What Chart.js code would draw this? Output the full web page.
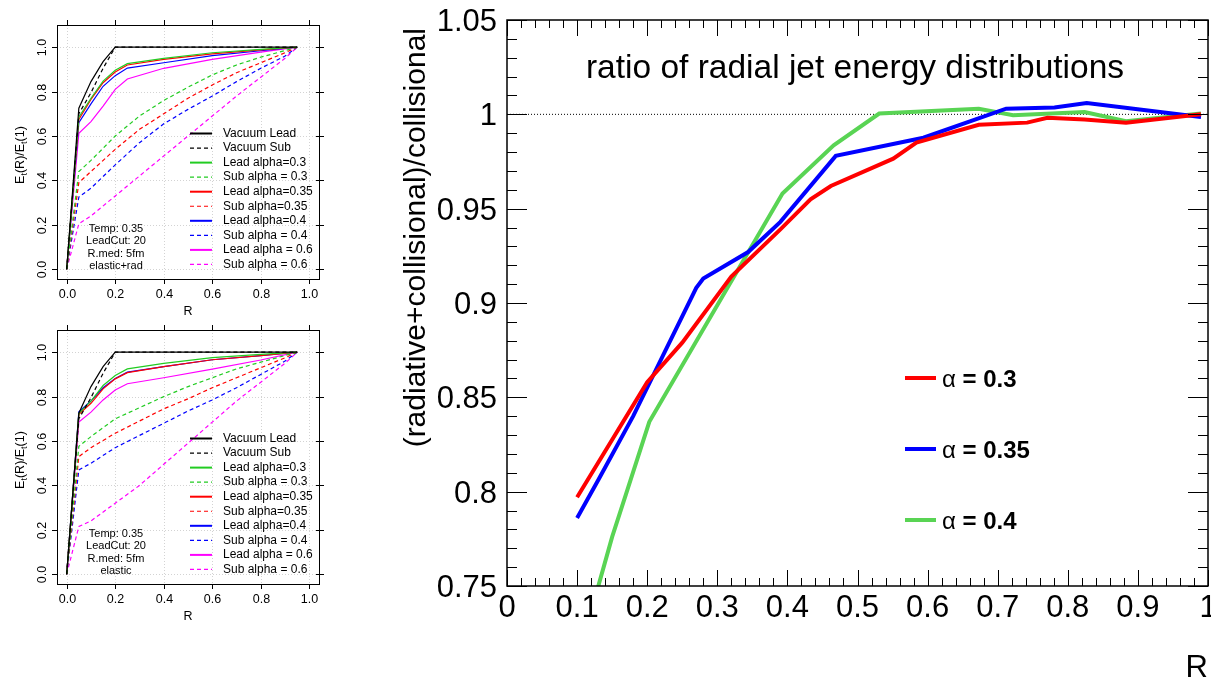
<!DOCTYPE html>
<html>
<head>
<meta charset="utf-8">
<script src="https://cdn.jsdelivr.net/npm/chart.js@4"></script>
<style>
html, body { margin: 0; padding: 0; background: #fff; overflow: hidden; }
body { width: 1211px; height: 681px; position: relative; }
.holder { position: absolute; }
</style>
</head>
<body>
<div class="holder" style="left:0;top:0;width:330px;height:320px"><canvas id="radPanel"></canvas></div>
<div class="holder" style="left:0;top:305px;width:330px;height:320px"><canvas id="elasticPanel"></canvas></div>
<div class="holder" style="left:380px;top:0;width:831px;height:681px"><canvas id="ratio"></canvas></div>
<script>
// ---- small panels: E_t(R)/E_t(1) ----
const leadRadii = [0, 0.05, 0.1, 0.15, 0.2, 0.25, 0.4, 0.6, 0.8, 0.95]
const subRadii = [0, 0.05, 0.1, 0.2, 0.3, 0.4, 0.5, 0.6, 0.7, 0.8, 0.9, 0.95]
const panelXTicks = [0, 0.2, 0.4, 0.6, 0.8, 1.0]
const panelYTicks = [0, 0.2, 0.4, 0.6, 0.8, 1.0]

const vacuumLead = [0, 0.725, 0.845, 0.935, 1, 1, 1, 1, 1, 1]
const vacuumSub = [0, 0.70, 0.795, 0.905, 1, 1, 1, 1, 1, 1]

// elastic+rad
const radLead03 = [0, 0.685, 0.77, 0.847, 0.896, 0.926, 0.95, 0.975, 0.99, 1]
const radLead035 = [0, 0.675, 0.765, 0.84, 0.888, 0.92, 0.945, 0.97, 0.988, 1]
const radLead04 = [0, 0.66, 0.745, 0.824, 0.872, 0.906, 0.93, 0.962, 0.984, 1]
const radLead06 = [0, 0.612, 0.665, 0.735, 0.81, 0.857, 0.905, 0.945, 0.978, 1]
const radSub03 = [0, 0.44, 0.49, 0.60, 0.69, 0.76, 0.82, 0.875, 0.92, 0.955, 0.985, 1]
const radSub035 = [0, 0.39, 0.44, 0.54, 0.63, 0.70, 0.77, 0.83, 0.885, 0.93, 0.975, 1]
const radSub04 = [0, 0.325, 0.365, 0.47, 0.57, 0.655, 0.72, 0.78, 0.845, 0.905, 0.96, 1]
const radSub06 = [0, 0.205, 0.24, 0.33, 0.42, 0.51, 0.60, 0.69, 0.78, 0.865, 0.95, 1]

// elastic only
const elLead03 = [0, 0.725, 0.78, 0.85, 0.895, 0.925, 0.95, 0.976, 0.99, 1]
const elLead035 = [0, 0.72, 0.77, 0.835, 0.88, 0.908, 0.935, 0.966, 0.985, 1]
const elLead04 = [0, 0.732, 0.78, 0.84, 0.882, 0.91, 0.935, 0.966, 0.985, 1]
const elLead06 = [0, 0.685, 0.73, 0.785, 0.83, 0.858, 0.885, 0.924, 0.965, 1]
const elSub03 = [0, 0.576, 0.62, 0.70, 0.75, 0.80, 0.845, 0.885, 0.925, 0.955, 0.985, 1]
const elSub035 = [0, 0.53, 0.57, 0.635, 0.69, 0.745, 0.79, 0.84, 0.885, 0.93, 0.975, 1]
const elSub04 = [0, 0.47, 0.50, 0.57, 0.625, 0.68, 0.735, 0.785, 0.84, 0.90, 0.96, 1]
const elSub06 = [0, 0.215, 0.24, 0.32, 0.40, 0.495, 0.59, 0.685, 0.78, 0.865, 0.95, 1]

// ---- main chart: ratio ----
const r03 = [0.1, 0.2, 0.25, 0.32, 0.39, 0.433, 0.462, 0.551, 0.584, 0.673, 0.742, 0.771, 0.824, 0.883, 0.99]
const ratio03 = [0.797, 0.858, 0.879, 0.914, 0.939, 0.955, 0.962, 0.9765, 0.985, 0.9945, 0.9956, 0.9982, 0.9972, 0.9956, 1.0]
const r035 = [0.1, 0.13, 0.18, 0.27, 0.28, 0.344, 0.39, 0.469, 0.594, 0.712, 0.781, 0.827, 0.99]
const ratio035 = [0.786, 0.806, 0.84, 0.908, 0.913, 0.927, 0.943, 0.978, 0.9876, 1.003, 1.0036, 1.006, 0.9986]
const r04 = [0.1, 0.15, 0.17, 0.203, 0.393, 0.466, 0.531, 0.673, 0.722, 0.824, 0.883, 0.99]
const ratio04 = [0.71, 0.776, 0.799, 0.837, 0.958, 0.9836, 1.0004, 1.003, 0.9995, 1.0012, 0.9964, 1.0004]
const unityR = [0, 1]
const unity = [1, 1]
const ratioXTicks = [0, 0.1, 0.2, 0.3, 0.4, 0.5, 0.6, 0.7, 0.8, 0.9, 1]
const ratioYTicks = [0.75, 0.8, 0.85, 0.9, 0.95, 1, 1.05]

const GREEN = '#22cc22'
const FONT = '"Liberation Sans", Arial, Helvetica, sans-serif'

function pts(xs, ys) {
    return xs.map((x, i) => ({ x, y: ys[i] }))
}

function hline(ctx, x1, y1, x2, y2) {
    ctx.beginPath()
    ctx.moveTo(x1, y1)
    ctx.lineTo(x2, y2)
    ctx.stroke()
}

const panelFrame = {
    id: 'panelFrame',
    beforeDatasetsDraw(chart) {
        const { ctx, chartArea: a, scales: { x, y } } = chart
        ctx.save()
        ctx.strokeStyle = '#d3d3d3'
        ctx.lineWidth = 1
        ctx.setLineDash([1, 2])
        panelXTicks.forEach(v => {
            const px = Math.round(x.getPixelForValue(v)) + 0.5
            hline(ctx, px, a.top, px, a.bottom)
        })
        panelYTicks.forEach(v => {
            const py = Math.round(y.getPixelForValue(v)) + 0.5
            hline(ctx, a.left, py, a.right, py)
        })
        ctx.restore()
    },
    afterDraw(chart, args, opts) {
        const { ctx, chartArea: a, scales: { x, y } } = chart
        ctx.save()
        ctx.strokeStyle = '#000'
        ctx.fillStyle = '#000'
        ctx.lineWidth = 1
        ctx.strokeRect(Math.round(a.left) + 0.5, Math.round(a.top) + 0.5, Math.round(a.width), Math.round(a.height))

        ctx.font = '12.5px ' + FONT
        ctx.textAlign = 'center'
        ctx.textBaseline = 'alphabetic'
        panelXTicks.forEach(v => {
            const px = Math.round(x.getPixelForValue(v)) + 0.5
            hline(ctx, px, a.bottom, px, a.bottom + 5)
            hline(ctx, px, a.top, px, a.top - 5)
            ctx.fillText(v.toFixed(1), px, 298)
        })
        panelYTicks.forEach(v => {
            const py = Math.round(y.getPixelForValue(v)) + 0.5
            hline(ctx, a.left, py, a.left - 5, py)
            hline(ctx, a.right - 3, py, a.right + 5, py)
            ctx.save()
            ctx.translate(46, py)
            ctx.rotate(-Math.PI / 2)
            ctx.fillText(v.toFixed(1), 0, 0)
            ctx.restore()
        })
        ctx.fillText('R', 188, 315)

        // y title E_t(R)/E_t(1)
        const parts = [['E', 0], ['t', 1], ['(R)/E', 0], ['t', 1], ['(1)', 0]]
        const big = '12.5px ' + FONT, small = '9px ' + FONT
        let w = 0
        parts.forEach(([s, sub]) => { ctx.font = sub ? small : big; w += ctx.measureText(s).width })
        ctx.save()
        ctx.translate(24, 155)
        ctx.rotate(-Math.PI / 2)
        ctx.textAlign = 'left'
        let px = -w / 2
        parts.forEach(([s, sub]) => {
            ctx.font = sub ? small : big
            ctx.fillText(s, px, sub ? 3 : 0)
            px += ctx.measureText(s).width
        })
        ctx.restore()

        // legend
        ctx.font = '12px ' + FONT
        ctx.textAlign = 'left'
        ctx.textBaseline = 'middle'
        chart.data.datasets.forEach((ds, i) => {
            const ly = 133.5 + i * 14.55
            ctx.save()
            ctx.strokeStyle = ds.borderColor
            ctx.lineWidth = ds.borderDash ? 1.2 : 2
            ctx.setLineDash(ds.borderDash || [])
            hline(ctx, 190, ly, 212, ly)
            ctx.restore()
            ctx.fillText(ds.label, 223, ly)
        })

        // run notes
        ctx.font = '11px ' + FONT
        ctx.textAlign = 'center'
        opts.note.forEach((t, i) => ctx.fillText(t, 116, 229 + i * 12.4))
        ctx.restore()
    }
}

function panelConfig(lead, sub, note) {
    const base = { borderWidth: 1.2, pointRadius: 0, fill: false, tension: 0 }
    const colors = [GREEN, '#ff0000', '#0000ff', '#ff00ff']
    const leadNames = ['Lead alpha=0.3', 'Lead alpha=0.35', 'Lead alpha=0.4', 'Lead alpha = 0.6']
    const subNames = ['Sub alpha = 0.3', 'Sub alpha=0.35', 'Sub alpha = 0.4', 'Sub alpha = 0.6']
    const datasets = [
        { ...base, label: 'Vacuum Lead', data: pts(leadRadii, vacuumLead), borderColor: '#000' },
        { ...base, label: 'Vacuum Sub', data: pts(leadRadii, vacuumSub), borderColor: '#000', borderDash: [4, 3] }
    ]
    colors.forEach((c, i) => {
        datasets.push({ ...base, label: leadNames[i], data: pts(leadRadii, lead[i]), borderColor: c })
        datasets.push({ ...base, label: subNames[i], data: pts(subRadii, sub[i]), borderColor: c, borderDash: [4, 3] })
    })
    return {
        type: 'line',
        data: { datasets },
        options: {
            responsive: true,
            maintainAspectRatio: false,
            animation: false,
            layout: { padding: { left: 57, right: 11, top: 25, bottom: 41 } },
            scales: {
                x: { type: 'linear', min: -0.04, max: 1.04, display: false },
                y: { type: 'linear', min: -0.044, max: 1.10, display: false }
            },
            plugins: {
                legend: { display: false },
                tooltip: { enabled: false },
                panelFrame: { note }
            }
        },
        plugins: [panelFrame]
    }
}

new Chart(document.getElementById('radPanel'), panelConfig(
    [radLead03, radLead035, radLead04, radLead06],
    [radSub03, radSub035, radSub04, radSub06],
    ['Temp: 0.35', 'LeadCut: 20', 'R.med: 5fm', 'elastic+rad']
))
new Chart(document.getElementById('elasticPanel'), panelConfig(
    [elLead03, elLead035, elLead04, elLead06],
    [elSub03, elSub035, elSub04, elSub06],
    ['Temp: 0.35', 'LeadCut: 20', 'R.med: 5fm', 'elastic']
))

const ratioFrame = {
    id: 'ratioFrame',
    afterDraw(chart) {
        const { ctx, chartArea: a, scales: { x, y } } = chart
        ctx.save()
        ctx.strokeStyle = '#000'
        ctx.fillStyle = '#000'
        ctx.lineWidth = 1
        // inner ticks, x: 0.02 minor, 0.1 major
        for (let i = 0; i <= 50; i++) {
            const px = Math.round(x.getPixelForValue(i / 50)) + 0.5
            const len = i % 5 === 0 ? 16 : 8
            hline(ctx, px, a.bottom, px, a.bottom - len)
            hline(ctx, px, a.top, px, a.top + len)
        }
        // inner ticks, y: 0.01 minor, 0.05 major
        for (let i = 0; i <= 30; i++) {
            const py = Math.round(y.getPixelForValue(0.75 + i / 100)) + 0.5
            const len = i % 5 === 0 ? 20 : 10
            hline(ctx, a.left, py, a.left + len, py)
            hline(ctx, a.right, py, a.right - len, py)
        }
        ctx.lineWidth = 1.5
        ctx.strokeRect(a.left, a.top, a.width, a.height)

        ctx.font = '31px ' + FONT
        ctx.textAlign = 'center'
        ctx.textBaseline = 'alphabetic'
        ratioXTicks.forEach(v => ctx.fillText(String(Number(v.toFixed(1))), x.getPixelForValue(v), 617))
        ctx.textAlign = 'right'
        ratioYTicks.forEach(v => ctx.fillText(String(Number(v.toFixed(2))), a.left - 10, y.getPixelForValue(v) + 11))

        // titles
        ctx.font = '31px ' + FONT
        ctx.fillText('R', a.right, 677)
        ctx.save()
        ctx.font = '30px ' + FONT
        ctx.translate(37, 28)
        ctx.rotate(-Math.PI / 2)
        ctx.textAlign = 'right'
        ctx.textBaseline = 'middle'
        ctx.fillText('(radiative+collisional)/collisional', 0, 0)
        ctx.restore()
        ctx.font = '33.5px ' + FONT
        ctx.textAlign = 'center'
        ctx.fillText('ratio of radial jet energy distributions', 475, 78)

        // legend
        ctx.textAlign = 'left'
        ctx.textBaseline = 'alphabetic'
        const rows = [378, 449, 520]
        chart.data.datasets.slice(0, 3).forEach((ds, i) => {
            ctx.save()
            ctx.strokeStyle = ds.borderColor
            ctx.lineWidth = 4
            hline(ctx, 525, rows[i], 556, rows[i])
            ctx.restore()
            ctx.font = '24px ' + FONT
            ctx.fillText('\u03b1', 562, rows[i] + 9)
            const aw = ctx.measureText('\u03b1 ').width
            ctx.font = 'bold 24px ' + FONT
            ctx.fillText('= ' + ds.label, 562 + aw, rows[i] + 9)
        })
        ctx.restore()
    }
}

const thick = { borderWidth: 4, pointRadius: 0, fill: false, tension: 0, clip: 0 }
new Chart(document.getElementById('ratio'), {
    type: 'line',
    data: {
        datasets: [
            { ...thick, label: '0.3', data: pts(r03, ratio03), borderColor: '#ff0000' },
            { ...thick, label: '0.35', data: pts(r035, ratio035), borderColor: '#0000ff' },
            { ...thick, label: '0.4', data: pts(r04, ratio04), borderColor: '#59d454' },
            { label: 'unity', data: pts(unityR, unity), borderColor: '#000', borderWidth: 1, borderDash: [1, 2], pointRadius: 0, fill: false }
        ]
    },
    options: {
        responsive: true,
        maintainAspectRatio: false,
        animation: false,
        layout: { padding: { left: 127, right: 3, top: 20, bottom: 95 } },
        scales: {
            x: { type: 'linear', min: 0, max: 1, display: false },
            y: { type: 'linear', min: 0.75, max: 1.05, display: false }
        },
        plugins: { legend: { display: false }, tooltip: { enabled: false } }
    },
    plugins: [ratioFrame]
})
</script>
</body>
</html>
